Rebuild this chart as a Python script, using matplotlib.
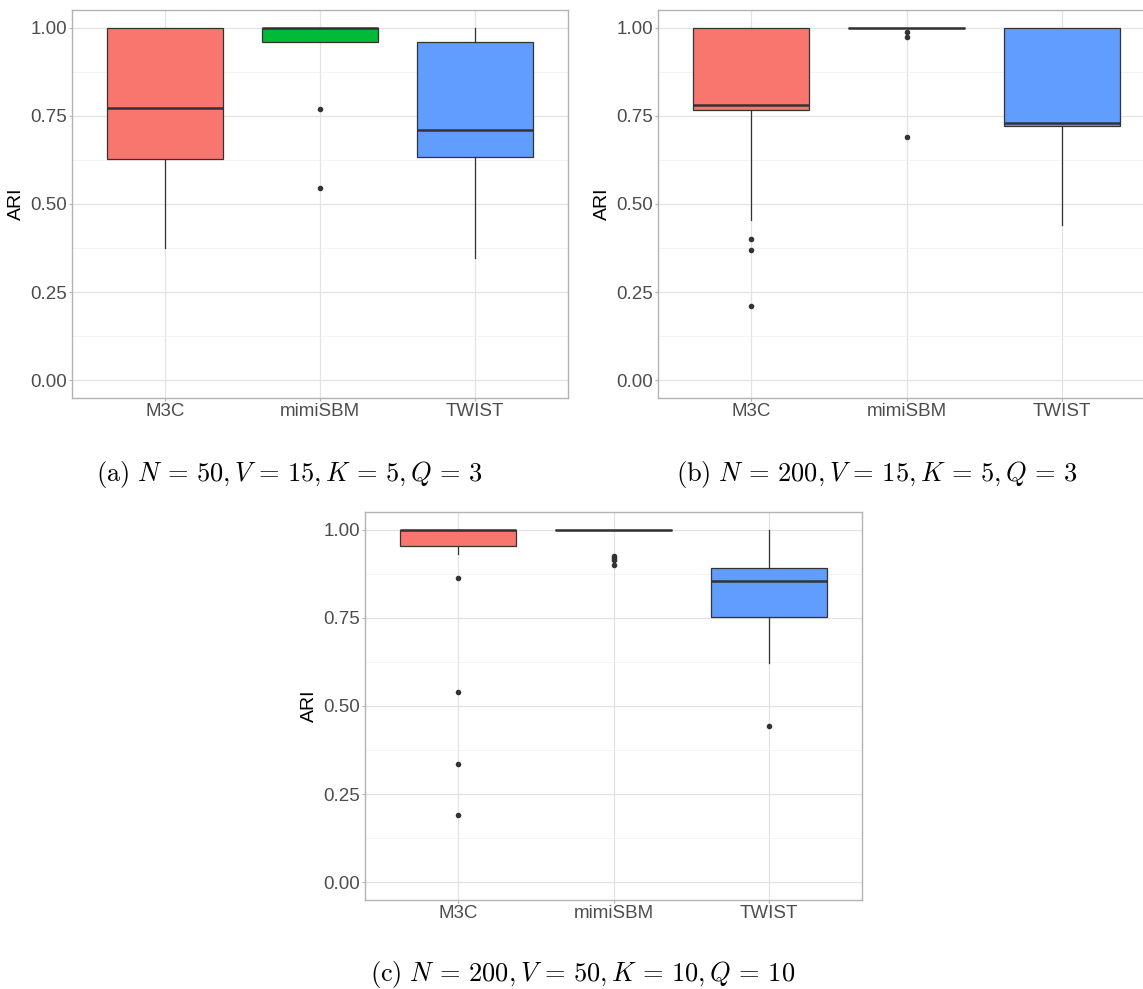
import numpy as np
import matplotlib
matplotlib.use("Agg")
import matplotlib.pyplot as plt

plt.rcParams['font.family'] = ['Liberation Sans', 'DejaVu Sans']
plt.rcParams['mathtext.fontset'] = 'cm'

methods = ["M3C", "mimiSBM", "TWIST"]
colors = ["#F8766D", "#00BA38", "#619CFF"]

# (a) N=50
a_q1 = [0.628, 0.960, 0.633]
a_med = [0.771, 1.000, 0.711]
a_q3 = [1.000, 1.000, 0.959]
a_lo = [0.376, 0.960, 0.348]
a_hi = [1.000, 1.000, 1.000]
a_out = [[], [0.770, 0.545], []]

# (b) N=200
b_q1 = [0.766, 1.000, 0.721]
b_med = [0.781, 1.000, 0.731]
b_q3 = [1.000, 1.000, 1.000]
b_lo = [0.456, 1.000, 0.440]
b_hi = [1.000, 1.000, 1.000]
b_out = [[0.400, 0.369, 0.212], [0.988, 0.974, 0.689], []]

# (c) N=200, V=50
c_q1 = [0.955, 1.000, 0.751]
c_med = [1.000, 1.000, 0.854]
c_q3 = [1.000, 1.000, 0.890]
c_lo = [0.931, 1.000, 0.622]
c_hi = [1.000, 1.000, 1.000]
c_out = [[0.862, 0.540, 0.335, 0.192], [0.925, 0.919, 0.913, 0.900], [0.442]]

captions = [r"$\mathrm{(a)}\ N\,=\,50, V\,=\,15, K\,=\,5, Q\,=\,3$",
            r"$\mathrm{(b)}\ N\,=\,200, V\,=\,15, K\,=\,5, Q\,=\,3$",
            r"$\mathrm{(c)}\ N\,=\,200, V\,=\,50, K\,=\,10, Q\,=\,10$"]


def draw_panel(ax, q1, med, q3, lo, hi, out):
    stats = []
    for i in range(len(methods)):
        stats.append({'label': methods[i], 'q1': q1[i], 'med': med[i], 'q3': q3[i],
                      'whislo': lo[i], 'whishi': hi[i], 'fliers': out[i]})
    bp = ax.bxp(stats, positions=[1, 2, 3], widths=0.75, patch_artist=True,
                showcaps=False, zorder=3,
                boxprops=dict(edgecolor='#333333', linewidth=0.9),
                medianprops=dict(color='#333333', linewidth=1.8),
                whiskerprops=dict(color='#333333', linewidth=0.9),
                flierprops=dict(marker='o', markersize=3.0, markerfacecolor='#333333',
                                markeredgecolor='#333333'))
    for patch, c in zip(bp['boxes'], colors):
        patch.set_facecolor(c)

    ax.set_xlim(0.4, 3.6)
    ax.set_ylim(-0.05, 1.05)
    ax.set_yticks([0, 0.25, 0.5, 0.75, 1.0])
    ax.set_yticklabels(["0.00", "0.25", "0.50", "0.75", "1.00"])
    ax.set_yticks([0.125, 0.375, 0.625, 0.875], minor=True)
    ax.set_xticks([1, 2, 3])
    ax.set_xticklabels(methods)
    ax.grid(which='major', color='#E3E3E3', linewidth=0.9, zorder=0)
    ax.grid(which='minor', axis='y', color='#EEEEEE', linewidth=0.5, zorder=0)
    ax.set_axisbelow(True)
    ax.tick_params(axis='both', which='major', labelsize=13.5, labelcolor='#4D4D4D',
                   color='#B3B3B3', length=2.5, width=0.8, pad=1.2)
    ax.tick_params(which='minor', length=0)
    for s in ax.spines.values():
        s.set_color('#B3B3B3')
        s.set_linewidth(1.0)
    ax.set_ylabel("ARI", fontsize=14, color='black', labelpad=4)


fig = plt.figure(figsize=(11.43, 9.89), dpi=100)

W, H = 1143.0, 989.0
ax1 = fig.add_axes([72 / W, 1 - 398 / H, 496 / W, 388 / H])
ax2 = fig.add_axes([658 / W, 1 - 398 / H, 497 / W, 388 / H])
ax3 = fig.add_axes([365 / W, 1 - 900 / H, 497 / W, 388 / H])

draw_panel(ax1, a_q1, a_med, a_q3, a_lo, a_hi, a_out)
draw_panel(ax2, b_q1, b_med, b_q3, b_lo, b_hi, b_out)
draw_panel(ax3, c_q1, c_med, c_q3, c_lo, c_hi, c_out)

fig.text(290 / W, 1 - 474 / H, captions[0], ha='center', va='center', fontsize=19)
fig.text(877 / W, 1 - 474 / H, captions[1], ha='center', va='center', fontsize=19)
fig.text(583 / W, 1 - 975 / H, captions[2], ha='center', va='center', fontsize=19)

fig.savefig("out.png", dpi=100)
